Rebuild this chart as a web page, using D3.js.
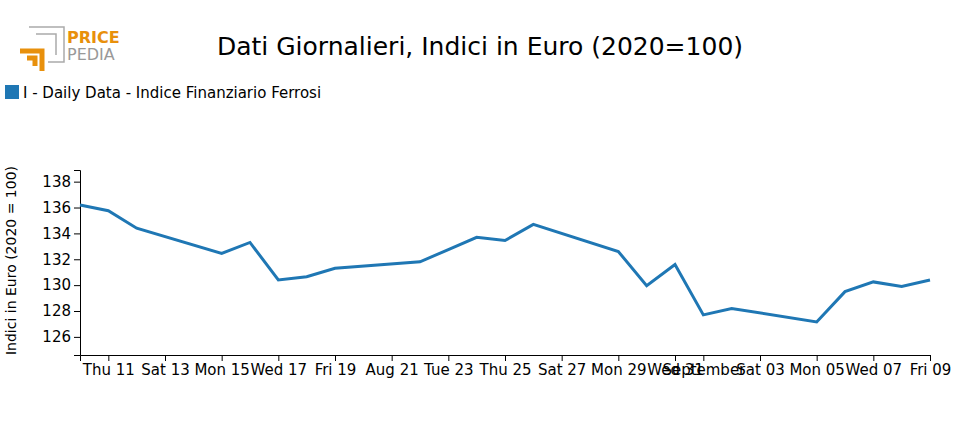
<!DOCTYPE html>
<html>
<head>
<meta charset="utf-8">
<script src="https://cdn.jsdelivr.net/npm/d3@7"></script>
<style>
body { margin: 0; background: #fff; font-family: "DejaVu Sans", sans-serif; }
</style>
</head>
<body>
<div id="chart"></div>
<script>
// Daily values, business days only
const dates = ["2022-08-10","2022-08-11","2022-08-12","2022-08-15","2022-08-16","2022-08-17","2022-08-18","2022-08-19",
  "2022-08-22","2022-08-23","2022-08-24","2022-08-25","2022-08-26","2022-08-29","2022-08-30","2022-08-31",
  "2022-09-01","2022-09-02","2022-09-05","2022-09-06","2022-09-07","2022-09-08","2022-09-09"];
const values = [136.2,135.75,134.4,132.45,133.3,130.4,130.65,131.3,131.8,132.75,133.7,133.45,134.7,132.6,129.95,131.6,
  127.7,128.2,127.15,129.5,130.25,129.9,130.4];
const yTicks = [126,128,130,132,134,136,138];
const seriesName = "I - Daily Data - Indice Finanziario Ferrosi";

const width = 960, height = 430;
const margin = {left: 80, right: 30, top: 170, bottom: 75};
const parse = d3.timeParse("%Y-%m-%d");
const data = dates.map((d, i) => ({date: parse(d), value: values[i]}));

const svg = d3.select('#chart').append('svg')
  .attr('width', width).attr('height', height);

// logo
const logo = svg.append('g');
logo.append('path').attr('d', 'M29,27 H64 V62 H48 M36,34 H56 V55')
  .attr('fill', 'none').attr('stroke', '#aaa').attr('stroke-width', 1.5);
logo.append('path').attr('d', 'M20,51 H42 V71 M27,58 H35 V66')
  .attr('fill', 'none').attr('stroke', '#e8900c').attr('stroke-width', 5);
logo.append('text').attr('x', 67).attr('y', 43).text('PRICE')
  .attr('fill', '#e8900c').attr('font-weight', 'bold').attr('font-size', 16);
logo.append('text').attr('x', 67).attr('y', 60).text('PEDIA')
  .attr('fill', '#999').attr('font-size', 16);

svg.append('text').attr('x', 480).attr('y', 55).attr('text-anchor', 'middle')
  .attr('font-size', 25).text('Dati Giornalieri, Indici in Euro (2020=100)');

svg.append('rect').attr('x', 5).attr('y', 85).attr('width', 14).attr('height', 14).attr('fill', '#1f77b4');
svg.append('text').attr('x', 23).attr('y', 98).attr('font-size', 15).text(seriesName);

const x = d3.scaleTime()
  .domain([parse("2022-08-10"), parse("2022-09-09")])
  .range([margin.left, width - margin.right]);
const y = d3.scaleLinear().domain([124.6, 138.9])
  .range([height - margin.bottom, margin.top]);

svg.append('g').attr('transform', `translate(0,${height - margin.bottom})`)
  .call(d3.axisBottom(x).ticks(d3.timeDay.every(2)))
  .selectAll('text').attr('font-size', 15).attr('font-family', 'DejaVu Sans');
svg.append('g').attr('transform', `translate(${margin.left},0)`)
  .call(d3.axisLeft(y).tickValues(yTicks))
  .selectAll('text').attr('font-size', 15).attr('font-family', 'DejaVu Sans');

svg.append('text').attr('transform', `translate(16,${(margin.top + height - margin.bottom) / 2 - 2}) rotate(-90)`)
  .attr('text-anchor', 'middle').attr('font-size', 14).text('Indici in Euro (2020 = 100)');

svg.append('path').datum(data)
  .attr('fill', 'none').attr('stroke', '#1f77b4').attr('stroke-width', 3)
  .attr('d', d3.line().x(d => x(d.date)).y(d => y(d.value)));
</script>
</body>
</html>
